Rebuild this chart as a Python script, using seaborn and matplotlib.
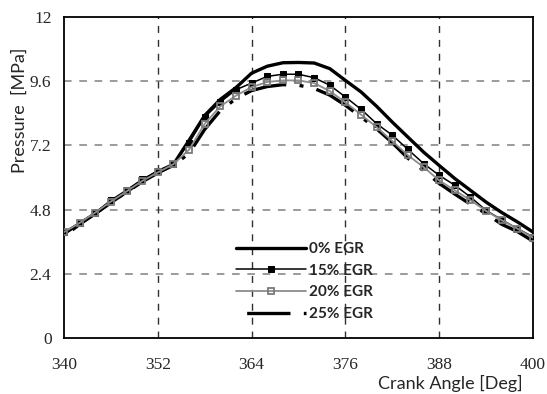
import numpy as np
import pandas as pd
import matplotlib
matplotlib.use("Agg")
import matplotlib.pyplot as plt
import seaborn as sns

# Crank angle samples (deg)
crank_angle = list(range(340, 401, 2))

# In-cylinder pressure (MPa) for each EGR rate
p_egr0 = [3.90, 4.28, 4.65, 5.06, 5.46, 5.87, 6.22, 6.49, 7.39, 8.32, 8.92, 9.36,
          9.90, 10.16, 10.29, 10.30, 10.28, 10.07, 9.63, 9.20, 8.66, 8.07, 7.51,
          6.95, 6.45, 5.96, 5.52, 5.08, 4.69, 4.34, 3.96]
p_egr15 = [3.96, 4.30, 4.69, 5.15, 5.53, 5.93, 6.24, 6.50, 7.29, 8.26, 8.82, 9.28,
           9.53, 9.78, 9.86, 9.86, 9.73, 9.45, 9.01, 8.55, 8.01, 7.58, 7.05,
           6.52, 6.08, 5.71, 5.27, 4.77, 4.42, 4.09, 3.78]
p_egr20 = [3.96, 4.30, 4.69, 5.10, 5.48, 5.87, 6.19, 6.50, 7.04, 8.01, 8.66, 9.06,
           9.38, 9.57, 9.63, 9.63, 9.53, 9.23, 8.81, 8.35, 7.88, 7.36, 6.83,
           6.39, 5.89, 5.52, 5.15, 4.75, 4.40, 4.09, 3.75]
p_egr25 = [3.80, 4.25, 4.65, 5.07, 5.45, 5.84, 6.17, 6.46, 6.90, 7.80, 8.50, 8.95,
           9.25, 9.40, 9.47, 9.45, 9.33, 9.08, 8.70, 8.26, 7.82, 7.30, 6.72,
           6.26, 5.78, 5.38, 5.00, 4.65, 4.25, 3.98, 3.62]

labels = ["0% EGR", "15% EGR", "20% EGR", "25% EGR"]
x_ticks = [340, 352, 364, 376, 388, 400]
y_ticks = [0, 2.4, 4.8, 7.2, 9.6, 12]
y_tick_labels = ["0", "2.4", "4.8", "7.2", "9.6", "12"]

df = pd.DataFrame({
    "angle": crank_angle * 4,
    "pressure": p_egr0 + p_egr15 + p_egr20 + p_egr25,
    "case": sum([[lab] * len(crank_angle) for lab in labels], []),
})

sns.set_style("white")
fig = plt.figure(figsize=(5.47, 3.94), dpi=100)
ax = fig.add_axes([64 / 547, 1 - 338 / 394, 469 / 547, 321 / 394])

styles = {
    "0% EGR": dict(color="black", linewidth=2.4, zorder=4),
    "15% EGR": dict(color="black", linewidth=1.1, marker="s", markersize=5,
                    markerfacecolor="black", markeredgecolor="black", zorder=5),
    "20% EGR": dict(color="#8c8c8c", linewidth=1.3, marker="s", markersize=5,
                    markerfacecolor="none", markeredgecolor="#7a7a7a",
                    markeredgewidth=1.3, zorder=6),
    "25% EGR": dict(color="black", linewidth=2.4,
                    linestyle=(19, (13, 4, 1.2, 4)), zorder=3),
}
for lab in labels:
    sub = df[df["case"] == lab]
    sns.lineplot(data=sub, x="angle", y="pressure", ax=ax, label=lab,
                 legend=False, **styles[lab])

ax.set_xlim(340, 400)
ax.set_ylim(0, 12)
ax.set_xticks(x_ticks)
ax.set_yticks(y_ticks)
ax.set_xticklabels([str(t) for t in x_ticks], family="Liberation Serif", fontsize=12.5)
ax.set_yticklabels(y_tick_labels, family="Liberation Serif", fontsize=12.5)
ax.tick_params(axis="x", direction="out", length=4, width=1, color="black", pad=10)
ax.tick_params(axis="y", direction="out", length=5, width=1, color="black", pad=4)

# Dashed grid: grey horizontals, dark verticals, inner lines only
for yv in y_ticks[1:-1]:
    ax.axhline(yv, color="#808080", linewidth=1.1, linestyle=(0, (5, 5)), zorder=1)
for xv in x_ticks[1:-1]:
    ax.axvline(xv, color="#303030", linewidth=1.0, linestyle=(0, (5, 5)), zorder=1)

for sp in ax.spines.values():
    sp.set_color("black")
    sp.set_linewidth(1.3)
    sp.set_visible(True)

ax.set_xlabel("")
ax.set_ylabel("")
fig.text(20 / 547, 1 - 110 / 394, "Pressure  [MPa]", rotation=90, ha="center",
         va="center", family="Lato", fontsize=13)
fig.text(523 / 547, 1 - 383 / 394, "Crank Angle [Deg]", ha="right", va="center",
         family="Lato", fontsize=13)

handles, _ = ax.get_legend_handles_labels()
leg = ax.legend(handles, labels, loc="upper left",
                bbox_to_anchor=(236 / 547, 1 - 242 / 394),
                bbox_transform=fig.transFigure, frameon=False, borderpad=0,
                handlelength=4.6, handletextpad=0.15, labelspacing=0.5,
                numpoints=1, borderaxespad=0,
                prop=dict(family="Lato", weight="bold", size=11))

fig.savefig("out.png", dpi=100)
